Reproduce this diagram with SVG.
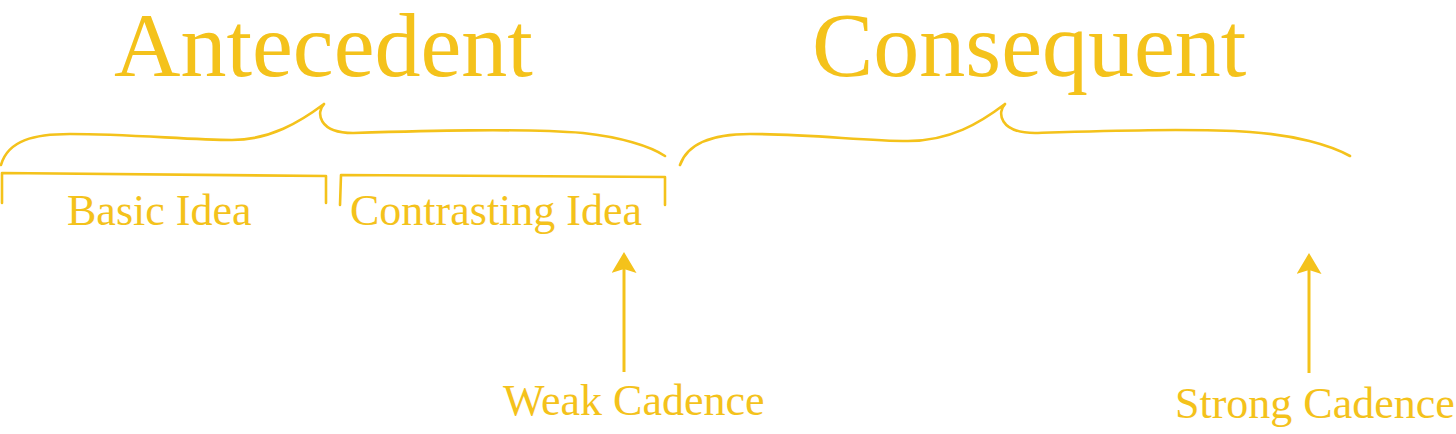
<svg xmlns="http://www.w3.org/2000/svg" width="1456" height="434" viewBox="0 0 1456 434">
<style>
  .t { font-family: "Liberation Serif", "Times New Roman", serif; fill: #F4C21B; }
  .big { font-size: 92px; }
  .sm { font-size: 44px; }
  .ln { fill: none; stroke: #F4C21B; stroke-width: 2.6; stroke-linecap: round; stroke-linejoin: round; }
  .ar { fill: none; stroke: #F4C21B; stroke-width: 3; }
</style>
<defs>
  <marker id="head" markerUnits="userSpaceOnUse" viewBox="0 0 21 25" markerWidth="21" markerHeight="25" refX="4" refY="12.5" orient="auto">
    <path d="M0,0 L21,12.5 L0,25 L4,12.5 Z" fill="#F4C21B"/>
  </marker>
</defs>
<rect width="1456" height="434" fill="#ffffff"/>
<g id="antecedent">
  <text class="t big" x="114" y="76">Antecedent</text>
  <path class="ln" d="M1,165 C8,140 35,134 70,134 C130,134 190,140 232,140 C270,140 300,122 324,104 M324,104 C316,112 318,133 353,133 C420,131 520,128 583,133 C620,137 650,146 665,156"/>
</g>
<g id="consequent">
  <text class="t big" x="812" y="76">Consequent</text>
  <path class="ln" d="M680,165 C688,142 715,134 750,134 C810,134 865,141 908,141 C950,141 980,123 1005,104 M1005,104 C997,112 999,133 1035,133 C1100,131 1190,128 1250,132 C1295,135 1330,145 1350,156"/>
</g>
<g id="basic-idea">
  <path class="ln" d="M2,203 L2,173 L326,176 L326,203"/>
  <text class="t sm" x="67" y="225">Basic Idea</text>
</g>
<g id="contrasting-idea">
  <path class="ln" d="M340,205 L341,175 L665,177 L665,205"/>
  <text class="t sm" x="350" y="225">Contrasting Idea</text>
</g>
<g id="weak-cadence">
  <text class="t sm" x="503" y="415">Weak Cadence</text>
</g>
<g id="strong-cadence">
  <text class="t sm" x="1175" y="418">Strong Cadence</text>
</g>
<g id="connectors">
  <line class="ar" x1="624" y1="372" x2="624" y2="269" marker-end="url(#head)"/>
  <line class="ar" x1="1309" y1="373" x2="1309" y2="270" marker-end="url(#head)"/>
</g>
</svg>
